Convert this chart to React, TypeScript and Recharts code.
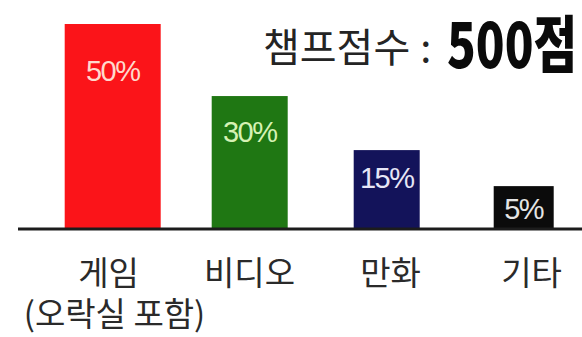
import { BarChart, Bar, XAxis, YAxis, LabelList } from 'recharts';

const categories = ['게임', '비디오', '만화', '기타'];
const subLabels = ['(오락실 포함)', '', '', ''];
const shares = [50, 30, 15, 5];

const barColors = ['#fb1419', '#1f7713', '#13135a', '#0b0b0b'];
const labelColors = ['#ffd9cc', '#d6f2b4', '#e6e6f6', '#e4e4e4'];
const barWidths = [96, 76, 66, 60];

const W = 582;
const H = 337;
const MARGIN = { top: 24, right: 0, left: 18, bottom: 78 };

const data = categories.map((name, i) => ({ name, share: shares[i], sub: subLabels[i] }));

const BarShape = (props: any) => {
  const { x, y, width, index, background } = props;
  const bottom = background ? background.y + background.height : 229;
  const w = barWidths[index];
  const cx = x + width / 2;
  return <rect x={cx - w / 2} y={y} width={w} height={bottom - y} fill={barColors[index]} />;
};

const ShareLabel = (props: any) => {
  const { x, y, width, height, value, index } = props;
  const cy = y + 20 + Math.abs(height) * 0.15;
  return (
    <text
      x={x + width / 2}
      y={cy}
      textAnchor="middle"
      dominantBaseline="central"
      fill={labelColors[index]}
      fontSize={29}
      fontFamily="'Liberation Sans', Arial, sans-serif"
      letterSpacing={-1.5}
    >
      {value}%
    </text>
  );
};

const CategoryTick = (props: any) => {
  const { x, y, payload, index } = props;
  const sub = subLabels[index];
  return (
    <g>
      <text x={x - 4 + index * 4} y={y + 48} textAnchor="middle" fill="#2a2a2a" fontSize={33} fontFamily="'Noto Sans CJK KR', sans-serif">
        {payload.value}
      </text>
      {sub && (
        <text x={x + 2} y={y + 89} textAnchor="middle" fill="#2a2a2a" fontSize={33} fontFamily="'Noto Sans CJK KR', sans-serif">
          {sub}
        </text>
      )}
    </g>
  );
};

export default function App() {
  return (
    <div style={{ position: 'absolute', left: 0, top: 0, width: W, height: H, background: '#fff', overflow: 'hidden' }}>
      <BarChart width={W} height={H} data={data} margin={MARGIN}>
        <XAxis
          dataKey="name"
          axisLine={{ stroke: '#1c1c1c', strokeWidth: 3 }}
          tickLine={false}
          tick={<CategoryTick />}
          interval={0}
          padding={{ left: 26, right: -10 }}
        />
        <YAxis hide domain={[-6.9, 50]} />
        <Bar dataKey="share" shape={<BarShape />} isAnimationActive={false}>
          <LabelList dataKey="share" content={<ShareLabel />} />
        </Bar>
      </BarChart>
      <div
        style={{
          position: 'absolute',
          left: 263,
          top: 18,
          fontFamily: "'Noto Sans CJK KR', sans-serif",
          fontSize: 40,
          color: '#242424',
          whiteSpace: 'nowrap',
          lineHeight: '54px',
        }}
      >
        챔프점수<span style={{ marginLeft: 10 }}>:</span>
      </div>
      <svg width={134} height={100} style={{ position: 'absolute', left: 446, top: 0, overflow: 'visible' }}>
        <text
          x={1}
          y={68}
          fontFamily="'Noto Sans CJK KR', sans-serif"
          fontSize={62}
          fontWeight={900}
          fill="#0a0a0a"
          textLength={130}
          lengthAdjust="spacingAndGlyphs"
        >
          500점
        </text>
      </svg>
    </div>
  );
}
